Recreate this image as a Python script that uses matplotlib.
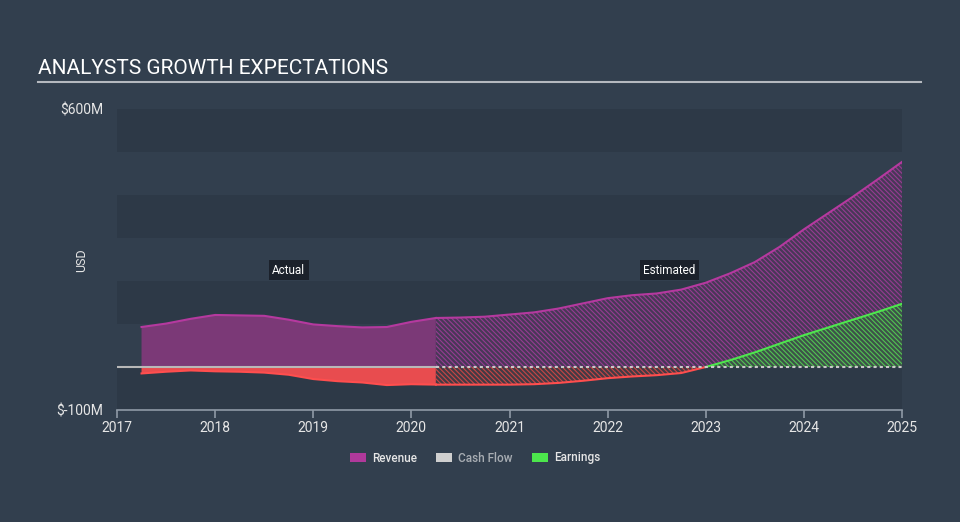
import matplotlib
matplotlib.use("Agg")
import matplotlib.pyplot as plt
import numpy as np
from matplotlib.patches import Patch

plt.rcParams['font.family'] = ['Roboto', 'DejaVu Sans']
plt.rcParams['hatch.linewidth'] = 0.8

# ---- data (USD millions) ----
rev_act_x = [2017.25, 2017.5, 2017.75, 2018.0, 2018.25, 2018.5, 2018.75, 2019.0,
             2019.25, 2019.5, 2019.75, 2020.0, 2020.25]
rev_act_y = [93, 101, 112, 121, 120, 119, 110, 99, 95, 92, 93, 105, 114]
rev_est_x = [2020.25, 2020.5, 2020.75, 2021.0, 2021.25, 2021.5, 2021.75, 2022.0,
             2022.25, 2022.5, 2022.75, 2023.0, 2023.25, 2023.5, 2023.75, 2024.0,
             2024.25, 2024.5, 2024.75, 2025.0]
rev_est_y = [114, 115, 117, 122, 127, 136, 148, 160, 167, 171, 180, 196, 218, 244,
             279, 320, 358, 396, 436, 477]

earn_act_x = rev_act_x
earn_act_y = [-15, -11, -8, -10, -11, -13, -18, -28, -33, -36, -42, -40, -41]
earn_est_x = [2020.25, 2020.5, 2020.75, 2021.0, 2021.25, 2021.5, 2021.75, 2022.0,
              2022.25, 2022.5, 2022.75, 2023.0, 2023.25, 2023.5, 2023.75, 2024.0,
              2024.25, 2024.5, 2024.75, 2025.0]
earn_est_y = [-41, -41, -41, -41, -40, -37, -32, -26, -22, -19, -14, 0, 16, 34,
              54, 74, 92, 110, 128, 147]

cf_x = [2020.25, 2025.0]
cf_y = [0, 0]

year_ticks = [2017, 2018, 2019, 2020, 2021, 2022, 2023, 2024, 2025]
y_ticks = [-100, 600]
y_tick_labels = ['$-100M', '$600M']

# ---- colours ----
BG = '#323f4e'
DARK = '#2d3947'
LIGHT = '#323f4e'
REV_LINE = '#b5399f'
REV_FILL = '#7b3977'
EARN_NEG_LINE = '#ff4e4e'
EARN_NEG_FILL = '#e84c4f'
EARN_POS_LINE = '#4ee64e'
TXT = '#e6e6e6'
HATCH = '\\' * 7

fig = plt.figure(figsize=(9.6, 5.22), dpi=100, facecolor=BG)
ax = fig.add_axes([117/960, 1 - 410/522, (902-117)/960, (410-109)/522])
ax.set_facecolor(BG)
ax.set_xlim(2017, 2025)
ax.set_ylim(-100, 600)

# background bands
for i, lo in enumerate(range(-100, 600, 100)):
    ax.axhspan(lo, lo + 100, color=DARK if i % 2 == 0 else LIGHT, lw=0, zorder=0)

# revenue actual
ax.fill_between(rev_act_x, 0, rev_act_y, facecolor=REV_FILL, lw=0, zorder=2)
ax.plot(rev_act_x, rev_act_y, color=REV_LINE, lw=1.5, zorder=4)
# revenue estimated (hatched)
ax.fill_between(rev_est_x, 0, rev_est_y, facecolor='#483857', edgecolor='#963c92',
                hatch=HATCH, lw=0, zorder=2)
ax.plot(rev_est_x, rev_est_y, color=REV_LINE, lw=1.5, zorder=4)

# earnings actual (negative)
ax.fill_between(earn_act_x, 0, earn_act_y, facecolor=EARN_NEG_FILL, lw=0, zorder=3)
ax.plot(earn_act_x, earn_act_y, color=EARN_NEG_LINE, lw=1.5, zorder=4)

# earnings estimated
ex = np.array(earn_est_x)
ey = np.array(earn_est_y)
neg = ex <= 2023.0
pos = ex >= 2023.0
ax.fill_between(ex[neg], 0, ey[neg], facecolor='#433a44', edgecolor='#c84646',
                hatch=HATCH, lw=0, zorder=3)
ax.plot(ex[neg], ey[neg], color=EARN_NEG_LINE, lw=1.5, zorder=4)
ax.fill_between(ex[pos], 0, ey[pos], facecolor='#3d5249', edgecolor='#52c452',
                hatch=HATCH, lw=0, zorder=3)
ax.plot(ex[pos], ey[pos], color=EARN_POS_LINE, lw=1.5, zorder=4)

# zero line / cash flow
ax.plot([2017, 2020.25], [0, 0], color='#b8b8b8', lw=1.5, zorder=5)
ax.plot(cf_x, cf_y, color='#c8c8c8', lw=1.5, ls=(0, (1.5, 1.5)), zorder=5)

# axes styling
for s in ['top', 'right', 'left']:
    ax.spines[s].set_visible(False)
ax.spines['bottom'].set_color('#8f9aa6')
ax.spines['bottom'].set_linewidth(1.2)
ax.set_xticks(year_ticks)
ax.set_xticklabels([str(y) for y in year_ticks])
ax.tick_params(axis='x', colors='#8f9aa6', labelcolor=TXT, labelsize=10, length=6, width=1.2, pad=2)
ax.set_yticks(y_ticks)
ax.set_yticklabels(y_tick_labels)
ax.tick_params(axis='y', length=0, labelcolor=TXT, labelsize=10, pad=10)
fig.text(82/960, 1 - 260/522, 'USD', color=TXT, fontsize=9, rotation=90,
         ha='center', va='center')

# annotations
ax.text(2018.75, 225, 'Actual', color='white', fontsize=8.5, ha='center', va='center', zorder=6,
        bbox=dict(boxstyle='square,pad=0.3', facecolor='#1b212b', edgecolor='none'))
ax.text(2022.63, 225, 'Estimated', color='white', fontsize=8.5, ha='center', va='center', zorder=6,
        bbox=dict(boxstyle='square,pad=0.3', facecolor='#1b212b', edgecolor='none'))

# title
fig.text(38/960, 1 - 68/522, 'ANALYSTS GROWTH EXPECTATIONS', color='white', fontsize=15,
         ha='left', va='center')
fig.add_artist(plt.Line2D([38/960, 921/960], [1 - 82/522, 1 - 82/522], color='#b5b9bf', lw=1.5))

# legend
handles = [Patch(facecolor='#b0399b', edgecolor='none'),
           Patch(facecolor='#cfcfcf', edgecolor='none'),
           Patch(facecolor='#4ce64c', edgecolor='none')]
leg = fig.legend(handles, ['Revenue', 'Cash Flow', 'Earnings'], loc='center',
                 bbox_to_anchor=(475/960, 1 - 458/522), ncol=3, frameon=False,
                 handlelength=1.4, handleheight=0.9, handletextpad=0.5, columnspacing=1.6,
                 prop={'size': 8.5, 'weight': 'medium'})
cols = ['#e6e6e6', '#a8adb3', '#e6e6e6']
for t, c in zip(leg.get_texts(), cols):
    t.set_color(c)

fig.savefig('out.png', dpi=100, facecolor=BG)
